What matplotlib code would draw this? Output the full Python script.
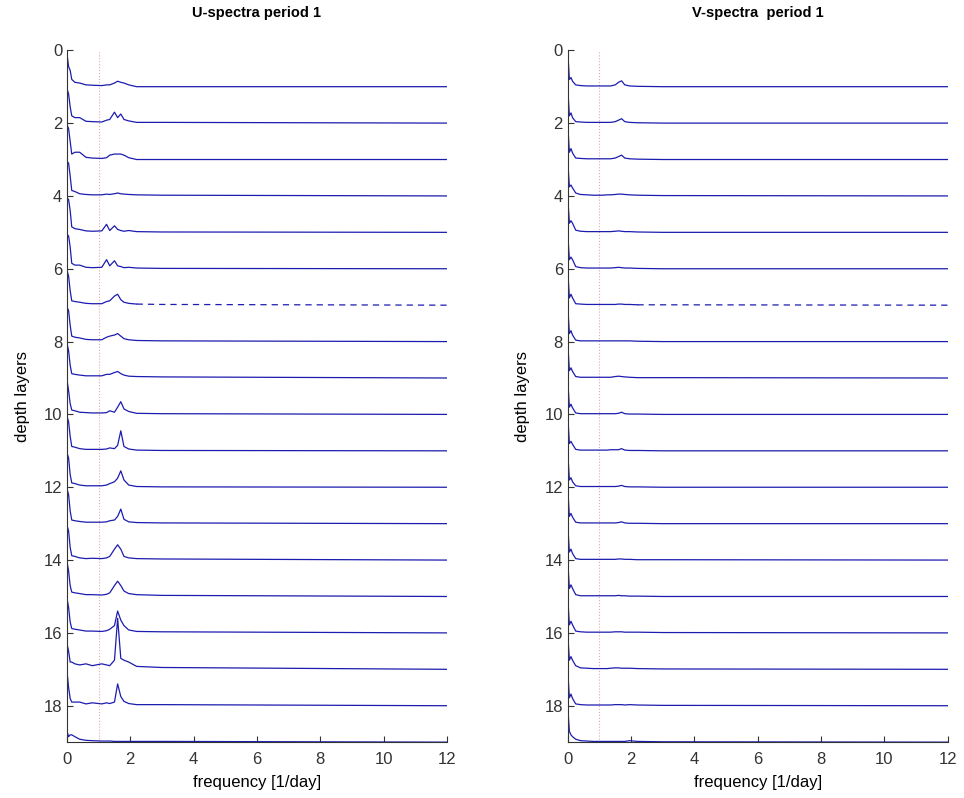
import matplotlib
matplotlib.use('Agg')
import matplotlib.pyplot as plt

plt.rcParams['font.family'] = ['Liberation Sans', 'DejaVu Sans']

# frequency knots [1/day] shared by all spectra
freq = [0.0, 0.05, 0.1, 0.15, 0.25, 0.4, 0.6, 0.8, 1.1, 1.25, 1.35,
        1.5, 1.6, 1.7, 1.8, 1.95, 2.2, 3.0, 12.0]

layers = list(range(1, 20))

# spectral amplitude per layer (in units of layer spacing)
u_amp = [
    [0.90, 0.55, 0.45, 0.20, 0.12, 0.10, 0.05, 0.04, 0.03, 0.05, 0.05, 0.10, 0.15, 0.12, 0.10, 0.05, 0.00, 0.00, 0.0],
    [0.95, 0.80, 0.45, 0.20, 0.15, 0.15, 0.05, 0.04, 0.03, 0.08, 0.10, 0.30, 0.15, 0.25, 0.10, 0.06, 0.02, 0.02, 0.0],
    [0.95, 0.85, 0.50, 0.15, 0.20, 0.20, 0.06, 0.04, 0.03, 0.05, 0.12, 0.15, 0.15, 0.15, 0.12, 0.05, 0.00, 0.00, 0.0],
    [0.95, 0.90, 0.55, 0.15, 0.12, 0.06, 0.04, 0.03, 0.03, 0.05, 0.04, 0.06, 0.08, 0.06, 0.05, 0.04, 0.03, 0.02, 0.0],
    [0.95, 0.90, 0.60, 0.15, 0.10, 0.08, 0.04, 0.03, 0.04, 0.22, 0.05, 0.18, 0.08, 0.05, 0.03, 0.05, 0.02, 0.01, 0.0],
    [0.95, 0.90, 0.60, 0.15, 0.10, 0.10, 0.04, 0.03, 0.04, 0.25, 0.08, 0.22, 0.08, 0.06, 0.03, 0.04, 0.02, 0.01, 0.0],
    [0.95, 0.80, 0.40, 0.12, 0.10, 0.08, 0.05, 0.04, 0.04, 0.10, 0.12, 0.25, 0.30, 0.15, 0.08, 0.05, 0.03, 0.02, 0.0],
    [0.95, 0.85, 0.45, 0.15, 0.12, 0.10, 0.06, 0.05, 0.05, 0.12, 0.15, 0.18, 0.22, 0.15, 0.08, 0.05, 0.03, 0.02, 0.0],
    [0.95, 0.75, 0.35, 0.12, 0.10, 0.08, 0.06, 0.06, 0.06, 0.10, 0.10, 0.15, 0.18, 0.12, 0.08, 0.05, 0.04, 0.03, 0.0],
    [0.95, 0.65, 0.30, 0.12, 0.10, 0.06, 0.05, 0.04, 0.04, 0.05, 0.10, 0.06, 0.20, 0.35, 0.15, 0.08, 0.03, 0.02, 0.0],
    [0.95, 0.80, 0.40, 0.12, 0.10, 0.06, 0.04, 0.04, 0.04, 0.05, 0.08, 0.06, 0.15, 0.55, 0.12, 0.05, 0.02, 0.01, 0.0],
    [0.95, 0.80, 0.35, 0.12, 0.10, 0.06, 0.04, 0.04, 0.04, 0.06, 0.10, 0.15, 0.25, 0.45, 0.20, 0.06, 0.02, 0.01, 0.0],
    [0.95, 0.80, 0.35, 0.10, 0.08, 0.06, 0.04, 0.04, 0.04, 0.05, 0.08, 0.10, 0.20, 0.40, 0.12, 0.05, 0.03, 0.02, 0.0],
    [0.95, 0.80, 0.35, 0.12, 0.10, 0.06, 0.04, 0.05, 0.04, 0.06, 0.10, 0.30, 0.42, 0.30, 0.10, 0.06, 0.04, 0.03, 0.0],
    [0.95, 0.70, 0.30, 0.12, 0.10, 0.08, 0.05, 0.05, 0.04, 0.06, 0.10, 0.30, 0.42, 0.30, 0.15, 0.08, 0.05, 0.03, 0.0],
    [0.95, 0.70, 0.30, 0.12, 0.10, 0.08, 0.05, 0.05, 0.04, 0.06, 0.10, 0.20, 0.60, 0.35, 0.20, 0.08, 0.04, 0.03, 0.0],
    [0.70, 0.50, 0.20, 0.20, 0.15, 0.12, 0.15, 0.10, 0.15, 0.12, 0.10, 0.25, 1.40, 0.30, 0.25, 0.20, 0.08, 0.05, 0.0],
    [0.95, 0.50, 0.20, 0.10, 0.10, 0.10, 0.05, 0.08, 0.05, 0.08, 0.06, 0.10, 0.60, 0.25, 0.12, 0.06, 0.03, 0.03, 0.0],
    [0.30, 0.15, 0.20, 0.20, 0.15, 0.08, 0.05, 0.04, 0.03, 0.03, 0.03, 0.02, 0.02, 0.02, 0.02, 0.02, 0.02, 0.02, 0.0],
]

v_amp = [
    [0.95, 0.20, 0.25, 0.15, 0.05, 0.03, 0.02, 0.02, 0.02, 0.02, 0.02, 0.05, 0.12, 0.16, 0.05, 0.02, 0.01, 0.00, 0.0],
    [0.95, 0.20, 0.28, 0.15, 0.04, 0.03, 0.02, 0.02, 0.02, 0.02, 0.02, 0.04, 0.08, 0.12, 0.04, 0.02, 0.01, 0.00, 0.0],
    [0.95, 0.20, 0.30, 0.18, 0.04, 0.03, 0.02, 0.02, 0.02, 0.02, 0.02, 0.04, 0.08, 0.12, 0.04, 0.02, 0.01, 0.00, 0.0],
    [0.95, 0.25, 0.30, 0.22, 0.08, 0.04, 0.03, 0.02, 0.02, 0.03, 0.03, 0.04, 0.05, 0.05, 0.04, 0.03, 0.02, 0.01, 0.0],
    [0.95, 0.25, 0.32, 0.25, 0.06, 0.03, 0.02, 0.02, 0.02, 0.02, 0.02, 0.03, 0.04, 0.03, 0.02, 0.02, 0.01, 0.00, 0.0],
    [0.95, 0.25, 0.32, 0.25, 0.06, 0.03, 0.02, 0.02, 0.02, 0.02, 0.02, 0.03, 0.04, 0.03, 0.02, 0.02, 0.01, 0.00, 0.0],
    [0.95, 0.20, 0.30, 0.20, 0.04, 0.03, 0.02, 0.02, 0.02, 0.02, 0.02, 0.02, 0.03, 0.03, 0.02, 0.02, 0.01, 0.01, 0.0],
    [0.95, 0.22, 0.30, 0.18, 0.04, 0.02, 0.02, 0.02, 0.02, 0.02, 0.02, 0.02, 0.02, 0.02, 0.02, 0.02, 0.01, 0.00, 0.0],
    [0.95, 0.20, 0.28, 0.18, 0.04, 0.02, 0.02, 0.02, 0.02, 0.02, 0.02, 0.04, 0.05, 0.04, 0.03, 0.02, 0.01, 0.01, 0.0],
    [0.95, 0.20, 0.28, 0.18, 0.04, 0.02, 0.02, 0.02, 0.02, 0.02, 0.02, 0.02, 0.03, 0.06, 0.02, 0.01, 0.01, 0.00, 0.0],
    [0.95, 0.20, 0.26, 0.18, 0.04, 0.02, 0.02, 0.02, 0.02, 0.02, 0.03, 0.03, 0.03, 0.06, 0.02, 0.01, 0.01, 0.00, 0.0],
    [0.95, 0.20, 0.26, 0.15, 0.04, 0.02, 0.02, 0.02, 0.02, 0.02, 0.02, 0.02, 0.03, 0.05, 0.02, 0.01, 0.01, 0.00, 0.0],
    [0.95, 0.20, 0.28, 0.18, 0.04, 0.02, 0.02, 0.02, 0.02, 0.02, 0.02, 0.02, 0.03, 0.05, 0.02, 0.01, 0.01, 0.00, 0.0],
    [0.95, 0.22, 0.30, 0.18, 0.04, 0.02, 0.02, 0.02, 0.02, 0.02, 0.02, 0.02, 0.03, 0.03, 0.02, 0.02, 0.01, 0.01, 0.0],
    [0.95, 0.22, 0.32, 0.22, 0.05, 0.02, 0.02, 0.02, 0.02, 0.02, 0.02, 0.02, 0.03, 0.02, 0.02, 0.01, 0.01, 0.00, 0.0],
    [0.95, 0.22, 0.32, 0.22, 0.05, 0.03, 0.02, 0.02, 0.02, 0.02, 0.02, 0.03, 0.03, 0.03, 0.02, 0.02, 0.02, 0.01, 0.0],
    [0.95, 0.25, 0.35, 0.25, 0.10, 0.04, 0.03, 0.02, 0.02, 0.02, 0.03, 0.04, 0.04, 0.03, 0.03, 0.03, 0.02, 0.01, 0.0],
    [0.95, 0.22, 0.32, 0.20, 0.05, 0.03, 0.02, 0.02, 0.02, 0.02, 0.02, 0.03, 0.03, 0.03, 0.02, 0.03, 0.02, 0.01, 0.0],
    [0.95, 0.30, 0.20, 0.15, 0.08, 0.04, 0.03, 0.02, 0.02, 0.02, 0.02, 0.02, 0.02, 0.02, 0.02, 0.04, 0.02, 0.01, 0.0],
]

broken_layers = [7]   # layer with gappy data beyond ~2/day
tidal_freq = 1.0      # dotted reference line
titles = ['U-spectra period 1', 'V-spectra  period 1']

line_col = '#1c1cb0'

fig = plt.figure(figsize=(9.64, 7.98), dpi=100)
lefts = [0.0695, 0.589]

for left, amps, title in zip(lefts, [u_amp, v_amp], titles):
    ax = fig.add_axes([left, 0.07, 0.394, 0.867])
    ax.axvline(tidal_freq, color='#e6a8a8', lw=0.8, ls=':', zorder=1)
    for k, a in zip(layers, amps):
        y = [k - v for v in a]
        if k in broken_layers:
            n = freq.index(2.2)
            ax.plot(freq[:n + 1], y[:n + 1], color=line_col, lw=0.9)
            ax.plot(freq[n:], y[n:], color=line_col, lw=0.9, ls=(0, (5, 4)))
        else:
            ax.plot(freq, y, color=line_col, lw=0.9)
    ax.set_xlim(0, 12)
    ax.set_ylim(19, 0)
    ax.set_xticks(range(0, 13, 2))
    ax.set_yticks(range(0, 19, 2))
    for s in ['top', 'right']:
        ax.spines[s].set_visible(False)
    for s in ['left', 'bottom']:
        ax.spines[s].set_color('#333333')
        ax.spines[s].set_linewidth(0.8)
    ax.tick_params(direction='in', length=4, labelsize=12, colors='#333333')
    ax.tick_params(axis='x', pad=7)
    ax.set_xlabel('frequency [1/day]', fontsize=12, labelpad=6)
    ax.set_ylabel('depth layers', fontsize=12, labelpad=10)
    ax.set_title(title, fontsize=10.5, fontweight='bold', pad=24)

fig.savefig('out.png', dpi=100)
